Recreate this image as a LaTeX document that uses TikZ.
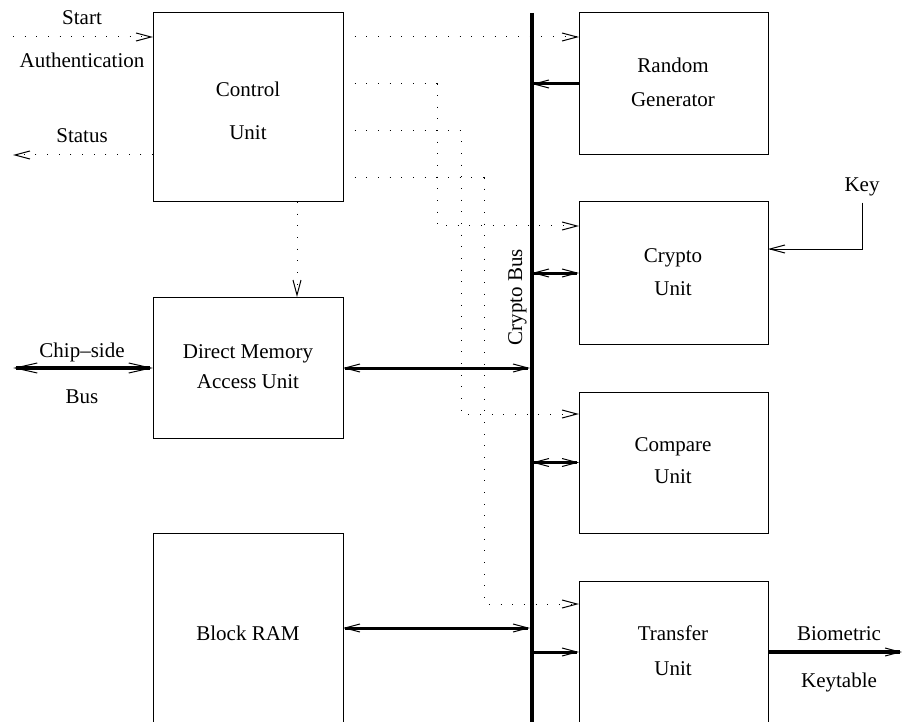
\documentclass[tikz,border=0pt]{standalone}
\usepackage{fontspec}
\setmainfont{Liberation Serif}
\usetikzlibrary{arrows.meta}
\begin{document}
\begin{tikzpicture}[x=1pt,y=-1pt,
  >={Straight Barb[length=15pt,width=8pt,line width=1pt]},
  box/.style={draw,line width=1pt,inner sep=0pt,outer sep=0pt,anchor=north west},
  lbl/.style={font=\fontsize{21}{25}\selectfont,anchor=base,inner sep=0pt},
  dots/.style={line width=1pt,dash pattern=on 1pt off 10.67pt},
  thin/.style={line width=1pt},
  busarrow/.style={line width=3pt},
  fatarrow/.style={line width=4.5pt}]
\useasboundingbox (0,0) rectangle (902,722);
\clip (0,0) rectangle (902,722);

% boxes
\node[box,minimum width=190pt,minimum height=189pt] (ctrl) at (153,13) {};
\node[box,minimum width=190pt,minimum height=141pt] (dma) at (153,297) {};
\node[box,minimum width=190pt,minimum height=200pt] (ram) at (153,533) {};
\node[box,minimum width=189pt,minimum height=142pt] (rng) at (579,13) {};
\node[box,minimum width=189pt,minimum height=142pt] (crypto) at (579,202) {};
\node[box,minimum width=189pt,minimum height=141pt] (cmp) at (579,392) {};
\node[box,minimum width=189pt,minimum height=160pt] (xfer) at (579,581) {};

% crypto bus
\coordinate (bustop) at (532,13);
\coordinate (busbot) at (532,730);
\draw[line width=3.5pt] (bustop) -- (busbot);
\node[lbl,rotate=90] (buslbl) at (522,297) {Crypto Bus};

% texts
\node[lbl] (tstart) at (82,25) {Start};
\node[lbl] (tauth) at (82,68) {Authentication};
\node[lbl] (tstatus) at (82,143) {Status};
\node[lbl] (tctrl1) at (248,97) {Control};
\node[lbl] (tctrl2) at (248,140) {Unit};
\node[lbl] (trng1) at (673,73) {Random};
\node[lbl] (trng2) at (673,107) {Generator};
\node[lbl] (tcry1) at (673,262) {Crypto};
\node[lbl] (tcry2) at (673,295) {Unit};
\node[lbl] (key) at (862,192) {Key};
\node[lbl] (tchip) at (82,357) {Chip–side};
\node[lbl] (tbus) at (82,403) {Bus};
\node[lbl] (tdma1) at (248,358) {Direct Memory};
\node[lbl] (tdma2) at (248,388) {Access Unit};
\node[lbl] (tcmp1) at (673,451) {Compare};
\node[lbl] (tcmp2) at (673,483) {Unit};
\node[lbl] (tram) at (248,640) {Block RAM};
\node[lbl] (txf1) at (673,640) {Transfer};
\node[lbl] (txf2) at (673,675) {Unit};
\node[lbl] (tbio) at (839,640) {Biometric};
\node[lbl] (tkey) at (839,687) {Keytable};

% external coordinates
\coordinate (startin) at (13,37);
\coordinate (statusout) at (13,155);
\coordinate (chipout) at (13,368);
\coordinate (bioout) at (902,652);

% dotted control lines
\draw[dots,->] (startin) -- (ctrl.west |- startin);
\draw[dots,->] (ctrl.west |- statusout) -- (statusout);
\draw[dots,->] (ctrl.east |- 0,37) -- (rng.west |- 0,37);
\draw[dots,->] (ctrl.east |- 0,84) -| (437,226) -- (crypto.west |- 0,226);
\draw[dots,->] (ctrl.east |- 0,131) -| (461,414) -- (cmp.west |- 0,414);
\draw[dots,->] (ctrl.east |- 0,178) -| (484,604) -- (xfer.west |- 0,604);
\draw[dots,->] (ctrl.south -| 297,0) -- (dma.north -| 297,0);

% bus connections
\draw[busarrow,->] (rng.west |- 0,84) -- (bustop |- 0,84);
\draw[busarrow,<->] (bustop |- crypto.west) -- (crypto.west);
\draw[busarrow,<->] (bustop |- cmp.west) -- (cmp.west);
\draw[busarrow,->] (bustop |- 0,652) -- (xfer.west |- 0,652);
\draw[busarrow,<->] (dma.east |- 0,368) -- (530,368);
\draw[busarrow,<->] (ram.east |- 0,628) -- (530,628);

% external buses
\draw[fatarrow,{Straight Barb[length=22pt,width=10pt,line width=1pt]}-{Straight Barb[length=22pt,width=10pt,line width=1pt]}] (chipout) -- (dma.west |- chipout);
\draw[fatarrow,->] (xfer.east |- bioout) -- (bioout);

% key
\draw[thin,->] ([yshift=-6pt]key.south) |- (crypto.east |- 0,249);
\end{tikzpicture}
\end{document}
